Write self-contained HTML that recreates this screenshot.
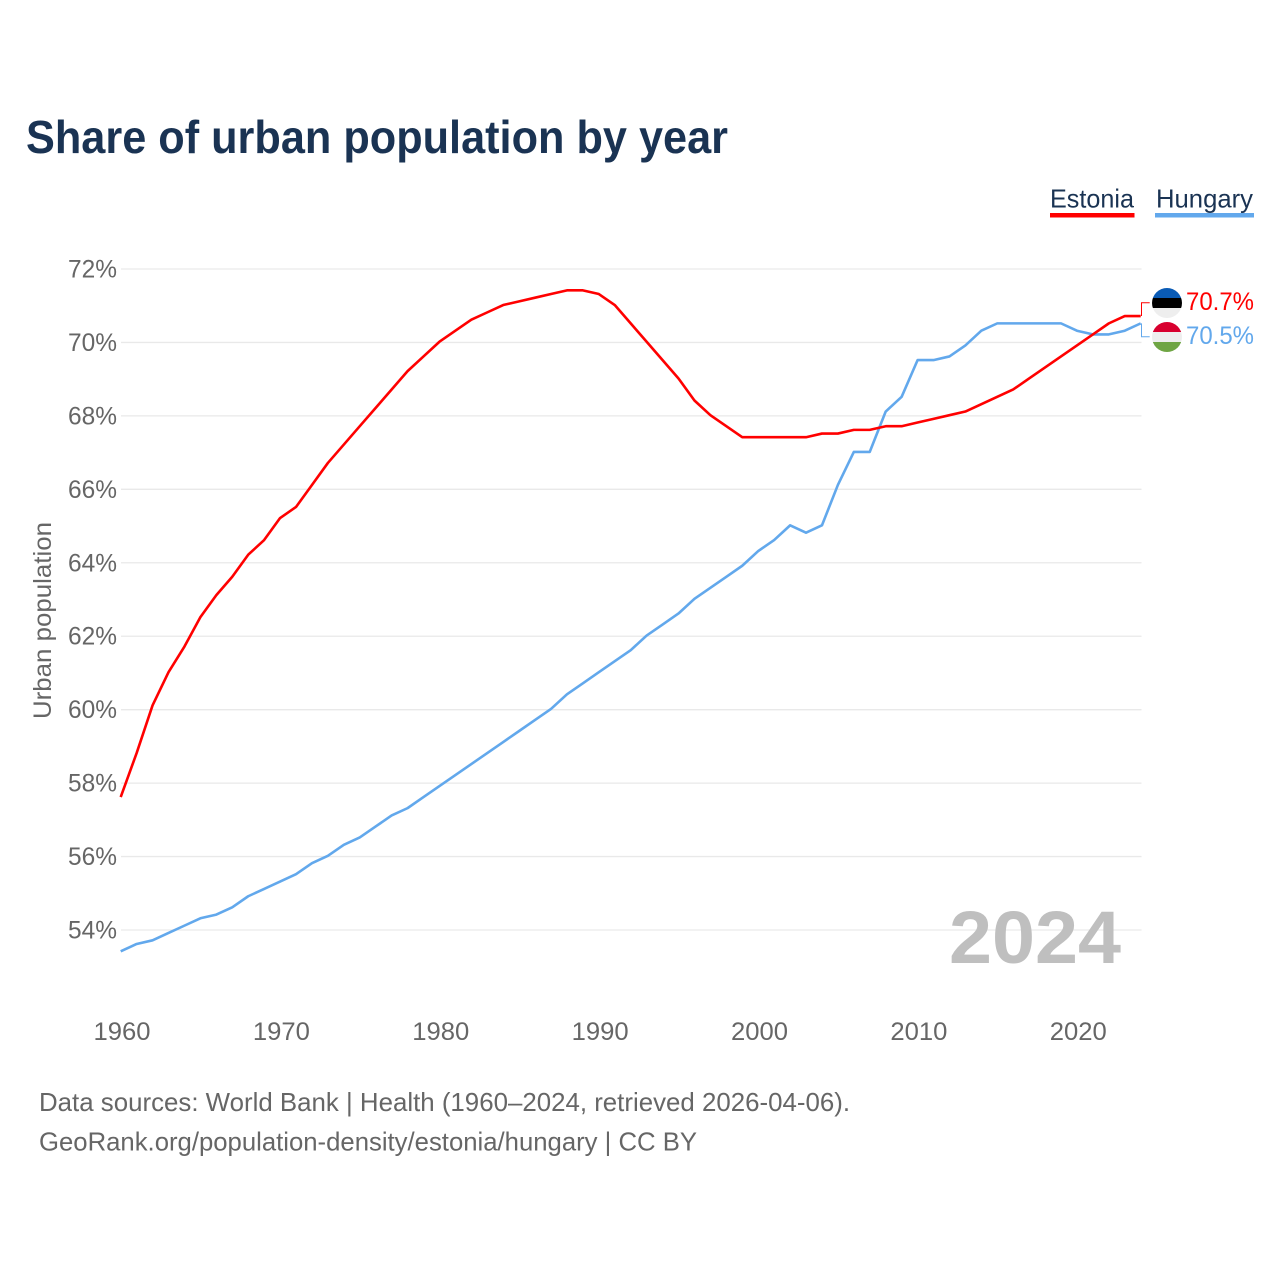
<!DOCTYPE html>
<html lang="en">
<head>
<meta charset="utf-8">
<title>Share of urban population by year</title>
<style>
html,body{margin:0;padding:0;background:#fff;}
svg{display:block;font-family:"Liberation Sans",sans-serif;}
</style>
</head>
<body>
<svg id="chart" xmlns="http://www.w3.org/2000/svg" width="1280" height="1280" viewBox="0 0 1280 1280">
  <defs>
    <clipPath id="clip-ee"><circle cx="1167" cy="303" r="15"/></clipPath>
    <clipPath id="clip-hu"><circle cx="1167" cy="337" r="15"/></clipPath>
  </defs>
  <rect width="1280" height="1280" fill="#fff"/>
  <text x="26" y="153" font-size="46" font-weight="700" fill="#1a3353" textLength="702" lengthAdjust="spacingAndGlyphs">Share of urban population by year</text>

  <g>
    <text x="1050" y="207.5" font-size="26" fill="#1a3353" textLength="84" lengthAdjust="spacingAndGlyphs">Estonia</text>
    <rect x="1050" y="213" width="84.5" height="4.5" fill="#ff0000"/>
  </g>
  <g>
    <text x="1156" y="207.5" font-size="26" fill="#1a3353" textLength="97" lengthAdjust="spacingAndGlyphs">Hungary</text>
    <rect x="1155" y="213" width="99" height="4.5" fill="#62a8ec"/>
  </g>

  <g id="grid"></g>
  <g id="y-ticks"></g>
  <g id="x-ticks"></g>
  <text transform="translate(51,620.5) rotate(-90)" text-anchor="middle" font-size="25" fill="#666" textLength="197" lengthAdjust="spacingAndGlyphs">Urban population</text>

  <text x="949" y="963" font-size="74" font-weight="700" fill="#bfbfbf" textLength="172" lengthAdjust="spacingAndGlyphs">2024</text>

  <g id="series" transform="translate(-0.3,-0.7)"></g>

  <g clip-path="url(#clip-ee)">
    <rect x="1152" y="288" width="30" height="10" fill="#0a5bb5"/>
    <rect x="1152" y="298" width="30" height="10" fill="#000"/>
    <rect x="1152" y="308" width="30" height="10" fill="#eeeeee"/>
  </g>
  <g clip-path="url(#clip-hu)">
    <rect x="1152" y="322" width="30" height="10" fill="#d8002f"/>
    <rect x="1152" y="332" width="30" height="10" fill="#eeeeee"/>
    <rect x="1152" y="342" width="30" height="10" fill="#6fa544"/>
  </g>

  <text id="value-estonia" x="1254" y="310" text-anchor="end" font-size="25" fill="#ff0000" textLength="68" lengthAdjust="spacingAndGlyphs"></text>
  <text id="value-hungary" x="1254" y="344" text-anchor="end" font-size="25" fill="#62a8ec" textLength="68" lengthAdjust="spacingAndGlyphs"></text>

  <text x="39" y="1111" font-size="26" fill="#666" textLength="811" lengthAdjust="spacingAndGlyphs">Data sources: World Bank | Health (1960–2024, retrieved 2026-04-06).</text>
  <text x="39" y="1150.5" font-size="26" fill="#666" textLength="658" lengthAdjust="spacingAndGlyphs">GeoRank.org/population-density/estonia/hungary | CC BY</text>
</svg>
<script>
const firstYear = 1960;
const xTickYears = [1960, 1970, 1980, 1990, 2000, 2010, 2020];
const yTickValues = [54, 56, 58, 60, 62, 64, 66, 68, 70, 72];
const estoniaValues = [57.6, 58.8, 60.1, 61.0, 61.7, 62.5, 63.1, 63.6, 64.2, 64.6,
  65.2, 65.5, 66.1, 66.7, 67.2, 67.7, 68.2, 68.7, 69.2, 69.6,
  70.0, 70.3, 70.6, 70.8, 71.0, 71.1, 71.2, 71.3, 71.4, 71.4,
  71.3, 71.0, 70.5, 70.0, 69.5, 69.0, 68.4, 68.0, 67.7, 67.4,
  67.4, 67.4, 67.4, 67.4, 67.5, 67.5, 67.6, 67.6, 67.7, 67.7,
  67.8, 67.9, 68.0, 68.1, 68.3, 68.5, 68.7, 69.0, 69.3, 69.6,
  69.9, 70.2, 70.5, 70.7, 70.7];
const hungaryValues = [53.4, 53.6, 53.7, 53.9, 54.1, 54.3, 54.4, 54.6, 54.9, 55.1,
  55.3, 55.5, 55.8, 56.0, 56.3, 56.5, 56.8, 57.1, 57.3, 57.6,
  57.9, 58.2, 58.5, 58.8, 59.1, 59.4, 59.7, 60.0, 60.4, 60.7,
  61.0, 61.3, 61.6, 62.0, 62.3, 62.6, 63.0, 63.3, 63.6, 63.9,
  64.3, 64.6, 65.0, 64.8, 65.0, 66.1, 67.0, 67.0, 68.1, 68.5,
  69.5, 69.5, 69.6, 69.9, 70.3, 70.5, 70.5, 70.5, 70.5, 70.5,
  70.3, 70.2, 70.2, 70.3, 70.5];

const NS = 'http://www.w3.org/2000/svg';
function xScale(year) { return 121 + (year - 1960) * (1141 - 121) / 64; }
function yScale(v) { return 930 - (v - 54) * (930 - 269) / 18; }
function make(tag, attrs, parent) {
  const el = document.createElementNS(NS, tag);
  for (const k in attrs) el.setAttribute(k, attrs[k]);
  parent.appendChild(el);
  return el;
}

const grid = document.getElementById('grid');
const yTicks = document.getElementById('y-ticks');
yTickValues.forEach(function (v) {
  const line = make('line', {x1: 121, x2: 1141.5, y1: yScale(v), y2: yScale(v), stroke: '#e9e9e9', 'stroke-width': 1.3}, grid);
  
  
  const label = make('text', {x: 117, y: yScale(v) + 8.5, 'text-anchor': 'end', 'font-size': 25, fill: '#666', textLength: 49, lengthAdjust: 'spacingAndGlyphs'}, yTicks);
  label.textContent = v + '%';
  
  
});

const xTicks = document.getElementById('x-ticks');
xTickYears.forEach(function (yr) {
  const label = make('text', {x: xScale(yr) + 1, y: 1040, 'text-anchor': 'middle', 'font-size': 25, fill: '#666', textLength: 57, lengthAdjust: 'spacingAndGlyphs'}, xTicks);
  label.textContent = String(yr);
  
  
});

function pathFor(values) {
  return values.map(function (v, i) {
    return (i ? 'L' : 'M') + xScale(firstYear + i).toFixed(2) + ' ' + yScale(v).toFixed(2);
  }).join(' ');
}

const seriesGroup = document.getElementById('series');

const hungaryLine = make('path', {d: pathFor(hungaryValues), fill: 'none', stroke: '#62a8ec', 'stroke-width': 2.6, 'stroke-linejoin': 'round'}, seriesGroup);



const estoniaLine = make('path', {d: pathFor(estoniaValues), fill: 'none', stroke: '#ff0000', 'stroke-width': 2.6, 'stroke-linejoin': 'round'}, seriesGroup);



const lastX = xScale(firstYear + estoniaValues.length - 1) + 0.8;
const eeEnd = estoniaValues[estoniaValues.length - 1];
const huEnd = hungaryValues[hungaryValues.length - 1];

const eeLeader = make('path', {d: 'M' + lastX + ' ' + yScale(eeEnd) + ' V303.5 H1150', fill: 'none', stroke: '#ff0000', 'stroke-width': 1}, seriesGroup);



const huLeader = make('path', {d: 'M' + lastX + ' ' + yScale(huEnd) + ' V337.5 H1150', fill: 'none', stroke: '#62a8ec', 'stroke-width': 1}, seriesGroup);



document.getElementById('value-estonia').textContent = eeEnd.toFixed(1) + '%';
document.getElementById('value-hungary').textContent = huEnd.toFixed(1) + '%';
</script>
</body>
</html>
